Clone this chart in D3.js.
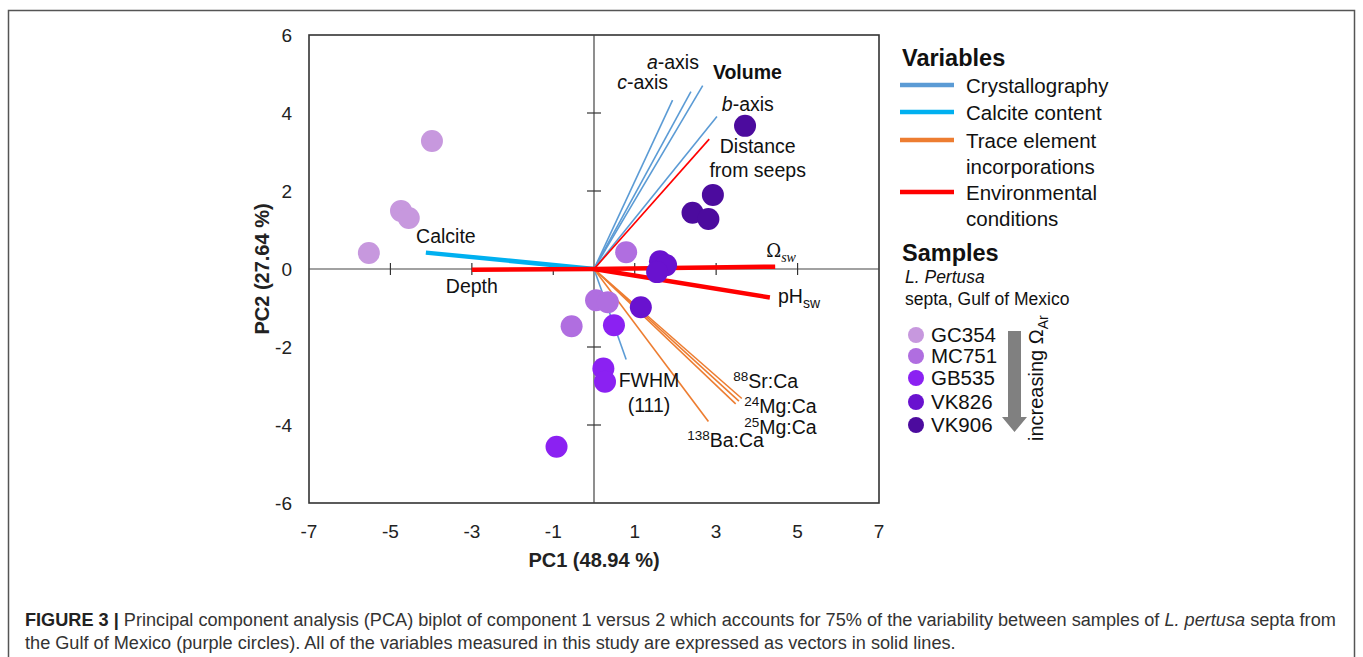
<!DOCTYPE html>
<html><head><meta charset="utf-8">
<script src="https://cdn.jsdelivr.net/npm/d3@7"></script>
<style>
html,body{margin:0;padding:0;background:#fff;}
svg{display:block;font-family:"Liberation Sans",Arial,sans-serif;}
</style></head>
<body>
<svg id="chart" width="1363" height="657"></svg>
<script>
// ---------- data ----------
const xTicks = [-7,-5,-3,-1,1,3,5,7];
const yTicks = [6,4,2,0,-2,-4,-6];
const innerXTicks = [-5,-3,-1,1,3,5];
const innerYTicks = [4,2,-2,-4];

const sampleNames = ["GC354","MC751","GB535","VK826","VK906"];
const pointSample = ["GC354","GC354","GC354","GC354",
                     "MC751","MC751","MC751","MC751",
                     "GB535","GB535","GB535","GB535",
                     "VK826","VK826","VK826","VK826",
                     "VK906","VK906","VK906","VK906"];
const pointPC1 = [-3.98,-4.74,-4.55,-5.53,
                   0.79, 0.05, 0.34,-0.55,
                   0.49, 0.23, 0.27,-0.92,
                   1.15, 1.62, 1.77, 1.55,
                   3.71, 2.92, 2.42, 2.81];
const pointPC2 = [ 3.28, 1.49, 1.31, 0.41,
                   0.43,-0.80,-0.85,-1.47,
                  -1.44,-2.55,-2.89,-4.56,
                  -0.98, 0.20, 0.10,-0.08,
                   3.67, 1.90, 1.44, 1.28];

const groupNames = ["Crystallography","Calcite content","Trace element incorporations","Environmental conditions"];
const vectorNames = ["c-axis","a-axis","Volume","b-axis","FWHM (111)","Calcite",
                     "88Sr:Ca","24Mg:Ca","25Mg:Ca","138Ba:Ca",
                     "Depth","Ωsw","pHsw","Distance from seeps"];
const vectorGroup = ["Crystallography","Crystallography","Crystallography","Crystallography","Crystallography","Calcite content",
                     "Trace element incorporations","Trace element incorporations","Trace element incorporations","Trace element incorporations",
                     "Environmental conditions","Environmental conditions","Environmental conditions","Environmental conditions"];
const vectorPC1 = [1.93,2.38,2.67,3.02,0.79,-4.13, 3.63,3.48,3.56,2.81, -3.00,4.45,4.32,2.83];
const vectorPC2 = [4.33,4.55,4.70,3.91,-2.32,0.42, -3.32,-3.46,-3.39,-3.91, -0.02,0.06,-0.73,3.33];

// ---------- styles / layout ----------
const groupColor = {"Crystallography":"#5b9bd5","Calcite content":"#00b0f0",
                    "Trace element incorporations":"#ed7d31","Environmental conditions":"#ff0000"};
const sampleColor = {"GC354":"#c798de","MC751":"#b06ee0","GB535":"#8b21f2","VK826":"#6912cf","VK906":"#4c0b9e"};
const thickVectors = ["Calcite","Depth","Ωsw","pHsw"];

const svg = d3.select("#chart");
const x = d3.scaleLinear().domain([-7,7]).range([309,879]);
const y = d3.scaleLinear().domain([-6,6]).range([503,35]);

// outer figure frame
svg.append("rect").attr("x",8.5).attr("y",10.5).attr("width",1346).attr("height",700)
  .attr("fill","none").attr("stroke","#555").attr("stroke-width",1.5);

// plot frame
svg.append("rect").attr("x",x(-7)).attr("y",y(6)).attr("width",x(7)-x(-7)).attr("height",y(-6)-y(6))
  .attr("fill","none").attr("stroke","#333").attr("stroke-width",1.6);

// zero axes
const g = svg.append("g");
g.append("line").attr("x1",x(-7)).attr("x2",x(7)).attr("y1",y(0)).attr("y2",y(0)).attr("stroke","#444").attr("stroke-width",1.2);
g.append("line").attr("x1",x(0)).attr("x2",x(0)).attr("y1",y(6)).attr("y2",y(-6)).attr("stroke","#444").attr("stroke-width",1.2);
g.selectAll(".xt").data(innerXTicks).join("line")
  .attr("x1",d=>x(d)).attr("x2",d=>x(d)).attr("y1",y(0)-6).attr("y2",y(0)+6).attr("stroke","#333").attr("stroke-width",1.2);
g.selectAll(".yt").data(innerYTicks).join("line")
  .attr("y1",d=>y(d)).attr("y2",d=>y(d)).attr("x1",x(0)-7).attr("x2",x(0)+7).attr("stroke","#333").attr("stroke-width",1.2);

// tick labels
svg.append("g").selectAll("text").data(xTicks).join("text")
  .attr("x",d=>x(d)).attr("y",538).attr("text-anchor","middle")
  .attr("font-size",19).attr("fill","#222").text(d=>d);
svg.append("g").selectAll("text").data(yTicks).join("text")
  .attr("x",292).attr("y",d=>y(d)+7).attr("text-anchor","end")
  .attr("font-size",19).attr("fill","#222").text(d=>d);

// axis titles
svg.append("text").attr("x",594).attr("y",567).attr("text-anchor","middle")
  .attr("font-size",20).attr("font-weight","bold").attr("fill","#222").text("PC1 (48.94 %)");
svg.append("text").attr("transform","translate(269,269) rotate(-90)").attr("text-anchor","middle")
  .attr("font-size",20).attr("font-weight","bold").attr("fill","#222").text("PC2 (27.64 %)");

// vectors
const vecData = vectorNames.map((n,i)=>({name:n,group:vectorGroup[i],px:vectorPC1[i],py:vectorPC2[i]}));
svg.append("g").selectAll("line").data(vecData).join("line")
  .attr("x1",x(0)).attr("y1",y(0))
  .attr("x2",d=>x(d.px)).attr("y2",d=>y(d.py))
  .attr("stroke",d=>groupColor[d.group])
  .attr("stroke-width",d=>thickVectors.includes(d.name)?4.5:1.6);

// points
const ptData = pointSample.map((s,i)=>({s,px:pointPC1[i],py:pointPC2[i]}));
svg.append("g").selectAll("circle").data(ptData).join("circle")
  .attr("cx",d=>x(d.px)).attr("cy",d=>y(d.py)).attr("r",11)
  .attr("fill",d=>sampleColor[d.s]);

// vector labels
const L = svg.append("g").attr("font-size",19.5).attr("fill","#111");
function lab(px,py,anchor){ return L.append("text").attr("x",x(px)).attr("y",y(py)).attr("text-anchor",anchor||"start"); }
let t;
t = lab(1.30,5.13); t.append("tspan").attr("font-style","italic").text("a"); t.append("tspan").text("-axis");
t = lab(0.57,4.62); t.append("tspan").attr("font-style","italic").text("c"); t.append("tspan").text("-axis");
lab(2.92,4.87).attr("font-weight","bold").text("Volume");
t = lab(3.14,4.05); t.append("tspan").attr("font-style","italic").text("b"); t.append("tspan").text("-axis");
lab(4.02,2.97,"middle").text("Distance");
lab(4.02,2.36,"middle").text("from seeps");
t = lab(4.23,0.31); t.append("tspan").attr("font-family","'DejaVu Serif','Liberation Serif',serif").attr("font-size",18).text("Ω");
t.append("tspan").attr("font-family","'Liberation Serif',serif").attr("font-style","italic").attr("font-size",14).attr("dy",5).text("sw");
t = lab(4.52,-0.87); t.append("tspan").text("pH"); t.append("tspan").attr("font-size",14).attr("dy",5).text("sw");
lab(-4.37,0.67).text("Calcite");
lab(-3.64,-0.62).text("Depth");
lab(1.35,-3.03,"middle").text("FWHM");
lab(1.35,-3.67,"middle").text("(111)");
function iso(px,py,sup,rest){ const tt=lab(px,py); tt.append("tspan").attr("font-size",13.5).attr("dy",-7).text(sup); tt.append("tspan").attr("dy",7).text(rest); }
iso(3.42,-3.05,"88","Sr:Ca");
iso(3.69,-3.70,"24","Mg:Ca");
iso(3.69,-4.24,"25","Mg:Ca");
iso(2.29,-4.56,"138","Ba:Ca");

// legend: variables
const lg = svg.append("g").attr("fill","#111");
lg.append("text").attr("x",902).attr("y",66).attr("font-size",23.5).attr("font-weight","bold").text("Variables");
const legRows = [
  {grp:groupNames[0], ly:85, lines:["Crystallography"], ty:93},
  {grp:groupNames[1], ly:112, lines:["Calcite content"], ty:120},
  {grp:groupNames[2], ly:140, lines:["Trace element","incorporations"], ty:148},
  {grp:groupNames[3], ly:192, lines:["Environmental","conditions"], ty:200}
];
legRows.forEach(r=>{
  lg.append("line").attr("x1",900).attr("x2",954).attr("y1",r.ly).attr("y2",r.ly)
    .attr("stroke",groupColor[r.grp]).attr("stroke-width",4.5);
  r.lines.forEach((s,i)=>lg.append("text").attr("x",966).attr("y",r.ty+i*25.5).attr("font-size",20.5).text(s));
});

// legend: samples
lg.append("text").attr("x",902).attr("y",261).attr("font-size",23.5).attr("font-weight","bold").text("Samples");
lg.append("text").attr("x",905).attr("y",283).attr("font-size",17.5).attr("font-style","italic").text("L. Pertusa");
lg.append("text").attr("x",905).attr("y",305).attr("font-size",17.5).text("septa, Gulf of Mexico");
const sy = [335,356,378,402,425];
sampleNames.forEach((s,i)=>{
  lg.append("circle").attr("cx",916).attr("cy",sy[i]).attr("r",8).attr("fill",sampleColor[s]);
  lg.append("text").attr("x",931).attr("y",sy[i]+7).attr("font-size",20.5).text(s);
});
// arrow
lg.append("path").attr("d","M1008,331 L1021,331 L1021,417 L1027,417 L1014.5,432 L1002,417 L1008,417 Z").attr("fill","#808080");
const at = lg.append("text").attr("transform","translate(1043,441) rotate(-90)").attr("font-size",20);
at.append("tspan").text("increasing Ω");
at.append("tspan").attr("font-size",14).attr("dy",5).text("Ar");

// caption
const cap = svg.append("g").attr("fill","#333");
const c1 = cap.append("text").attr("x",25).attr("y",626).attr("font-size",16);
c1.append("tspan").attr("font-weight","bold").attr("fill","#222").text("FIGURE 3 | ");
c1.append("tspan").text("Principal component analysis (PCA) biplot of component 1 versus 2 which accounts for 75% of the variability between samples of ");
c1.append("tspan").attr("font-style","italic").text("L. pertusa");
c1.append("tspan").text(" septa from");
const c2 = cap.append("text").attr("x",25).attr("y",649).attr("font-size",16)
  .text("the Gulf of Mexico (purple circles). All of the variables measured in this study are expressed as vectors in solid lines.");
const w1 = c1.node().getComputedTextLength();
const fs = 16*1312/w1;
c1.attr("font-size",fs); c2.attr("font-size",fs);
</script>
</body></html>
